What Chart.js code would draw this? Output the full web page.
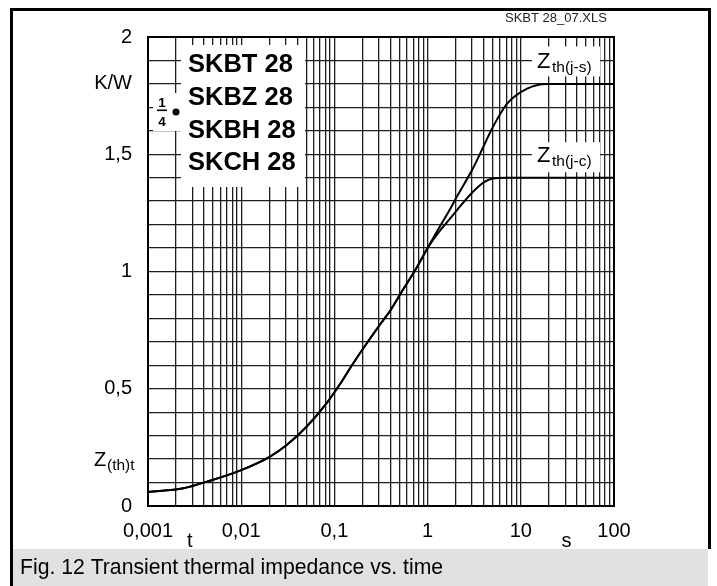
<!DOCTYPE html>
<html>
<head>
<meta charset="utf-8">
<script src="https://cdn.jsdelivr.net/npm/chart.js@4.4.1/dist/chart.umd.min.js"></script>
<style>
  html, body { margin: 0; padding: 0; background: #fff; }
  #wrap { position: relative; width: 717px; height: 586px; }
</style>
</head>
<body>
<div id="wrap"><canvas id="zth" width="717" height="586"></canvas></div>
<script>
/* Transient thermal impedance vs. time (SKBT/SKBZ/SKBH/SKCH 28) */

// time axis, s
const timeS = [0.001, 0.0024, 0.0043, 0.0097, 0.0204, 0.031, 0.0505, 0.083, 0.115, 0.16,
  0.31, 0.4, 0.55, 0.76, 1.0, 1.3, 1.74, 2.1, 3.07, 4.0, 5.0, 7.1, 11.7, 19, 100];
// Zth(j-s), K/W
const zthJs = [0.06, 0.076, 0.104, 0.151, 0.211, 0.261, 0.339, 0.44, 0.52, 0.61,
  0.775, 0.835, 0.925, 1.015, 1.10, 1.18, 1.265, 1.325, 1.44, 1.535, 1.615, 1.715, 1.78, 1.80, 1.80];
// Zth(j-c), K/W
const zthJc = [0.06, 0.076, 0.104, 0.151, 0.211, 0.261, 0.339, 0.44, 0.52, 0.61,
  0.775, 0.835, 0.925, 1.015, 1.10, 1.165, 1.225, 1.265, 1.34, 1.38, 1.397, 1.40, 1.40, 1.40, 1.40];

const xDecades = [0.001, 0.01, 0.1, 1, 10];
const xLabelVals = [0.001, 0.01, 0.1, 1, 10, 100];
const xLabelText = ['0,001', '0,01', '0,1', '1', '10', '100'];
const yLabelVals = [0, 0.5, 1, 1.5, 2];
const yLabelText = ['0', '0,5', '1', '1,5', '2'];
const yUnit = { value: 1.8, text: 'K/W' };
const typeNames = ['SKBT 28', 'SKBZ 28', 'SKBH 28', 'SKCH 28'];

const FONT = "'Liberation Sans', Arial, sans-serif";
const GRID = '#1e1e1e';

// every 1..9 x decade line, plus the 100 s end
const xGridVals = [];
xDecades.forEach(d => { for (let m = 1; m <= 9; m++) xGridVals.push(+(d * m).toPrecision(3)); });
xGridVals.push(100);

const near = (a, b) => Math.abs(a - b) < 1e-9 * Math.max(1, Math.abs(b));

function toPoints(xs, ys) {
  return xs.map((t, i) => ({ x: t, y: ys[i] }));
}

/* ── page decoration: frame, caption, legend box, curve labels ── */
const decor = {
  id: 'decor',
  beforeDraw(chart) {
    const ctx = chart.ctx;
    ctx.save();
    ctx.fillStyle = '#fff';
    ctx.fillRect(0, 0, chart.width, chart.height);
    ctx.restore();
  },
  afterDraw(chart) {
    const { ctx, chartArea: a, scales } = chart;
    const x = scales.x, y = scales.y;
    ctx.save();

    // plot border
    ctx.strokeStyle = '#000';
    ctx.lineWidth = 2;
    ctx.strokeRect(a.left, a.top, a.right - a.left, a.bottom - a.top);

    // white boxes over the grid
    ctx.fillStyle = '#fff';
    ctx.fillRect(a.left + 33, a.top + 8, 124, 142);   // type names
    ctx.fillRect(a.left + 5, a.top + 56, 30, 38);     // 1/4 mark
    ctx.fillRect(532, y.getPixelForValue(1.9) - 14, 68, 30);
    ctx.fillRect(532, y.getPixelForValue(1.5) - 12, 68, 30);

    // type names
    ctx.fillStyle = '#000';
    ctx.textAlign = 'left';
    ctx.textBaseline = 'alphabetic';
    ctx.font = 'bold 25.5px ' + FONT;
    typeNames.forEach((s, i) => ctx.fillText(s, 188, 72 + i * 32.8));

    // 1/4 with bullet
    ctx.font = 'bold 13.5px ' + FONT;
    ctx.textAlign = 'center';
    ctx.fillText('1', 162, 107);
    ctx.fillText('4', 162, 126);
    ctx.fillRect(157, 109.5, 10, 1.6);
    ctx.beginPath();
    ctx.arc(176, 112, 3.5, 0, Math.PI * 2);
    ctx.fill();

    // curve labels
    const zLabel = (yc, sub) => {
      ctx.textAlign = 'left';
      ctx.font = '22px ' + FONT;
      ctx.fillText('Z', 537, yc + 8);
      ctx.font = '15.5px ' + FONT;
      ctx.fillText(sub, 552, yc + 12);
    };
    zLabel(y.getPixelForValue(1.9), 'th(j-s)');
    zLabel(y.getPixelForValue(1.5), 'th(j-c)');

    // y quantity Z(th)t
    const yq = y.getPixelForValue(0.2);
    ctx.textAlign = 'left';
    ctx.font = '20px ' + FONT;
    ctx.fillText('Z', 94, yq + 7);
    ctx.font = '15.5px ' + FONT;
    ctx.fillText('(th)t', 107, yq + 11);

    // x quantity and unit
    ctx.font = '20px ' + FONT;
    ctx.textAlign = 'center';
    ctx.fillText('t', x.getPixelForValue(0.0028), 547);
    ctx.fillText('s', x.getPixelForValue(31), 547);

    // file tag
    ctx.font = '13px ' + FONT;
    ctx.fillStyle = '#222';
    ctx.textAlign = 'left';
    ctx.fillText('SKBT 28_07.XLS', 505, 22);

    // outer frame
    ctx.fillStyle = '#000';
    ctx.fillRect(10, 8, 701, 3);
    ctx.fillRect(10, 8, 3, 578);
    ctx.fillRect(708, 8, 3, 541);

    // caption band
    ctx.fillStyle = '#e1e1e1';
    ctx.fillRect(13, 549, 695, 37);
    ctx.fillStyle = '#000';
    ctx.font = '21.2px ' + FONT;
    ctx.textAlign = 'left';
    ctx.fillText('Fig. 12 Transient thermal impedance vs. time', 20, 574);

    ctx.restore();
  }
};

const lineStyle = {
  borderColor: '#000',
  borderWidth: 2,
  pointRadius: 0,
  fill: false,
  cubicInterpolationMode: 'monotone'
};

new Chart(document.getElementById('zth'), {
  type: 'line',
  data: {
    datasets: [
      Object.assign({ label: 'Zth(j-s)', data: toPoints(timeS, zthJs) }, lineStyle),
      Object.assign({ label: 'Zth(j-c)', data: toPoints(timeS, zthJc) }, lineStyle)
    ]
  },
  options: {
    responsive: false,
    animation: false,
    events: [],
    layout: { padding: { left: 0, top: 37, right: 103, bottom: 0 } },
    plugins: { legend: { display: false }, tooltip: { enabled: false } },
    scales: {
      x: {
        type: 'logarithmic',
        min: 0.001,
        max: 100,
        afterBuildTicks: s => { s.ticks = xGridVals.map(v => ({ value: v })); },
        afterFit: s => { s.height = 80; },
        grid: { color: GRID, lineWidth: 1.3, drawTicks: false },
        border: { display: true, color: '#000', width: 2 },
        ticks: {
          autoSkip: false,
          maxRotation: 0,
          padding: 13,
          color: '#000',
          font: { family: FONT, size: 20 },
          callback: v => {
            const i = xLabelVals.findIndex(d => near(d, v));
            return i >= 0 ? xLabelText[i] : '';
          }
        }
      },
      y: {
        type: 'linear',
        min: 0,
        max: 2,
        afterFit: s => { s.width = 148; },
        grid: { color: GRID, lineWidth: 1.3, drawTicks: false },
        border: { display: true, color: '#000', width: 2 },
        ticks: {
          stepSize: 0.1,
          autoSkip: false,
          padding: 16,
          color: '#000',
          font: { family: FONT, size: 20 },
          callback: v => {
            if (near(v, yUnit.value)) return yUnit.text;
            const i = yLabelVals.findIndex(d => near(d, v));
            return i >= 0 ? yLabelText[i] : '';
          }
        }
      }
    }
  },
  plugins: [decor]
});
</script>
</body>
</html>
